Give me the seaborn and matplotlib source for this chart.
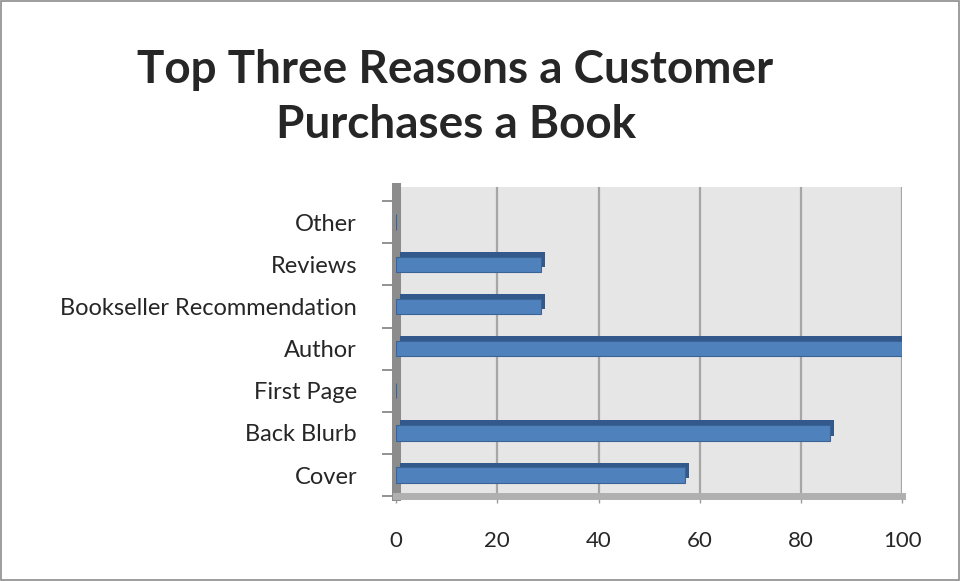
import numpy as np
import pandas as pd
import seaborn as sns
import matplotlib.pyplot as plt
import matplotlib.patheffects as pe
from matplotlib.patches import Rectangle

# categories listed top to bottom, as drawn
reasons = ["Other", "Reviews", "Bookseller Recommendation", "Author",
           "First Page", "Back Blurb", "Cover"]
percent = [0.0, 28.6, 28.6, 100.0, 0.0, 85.7, 57.1]
x_ticks = [0, 20, 40, 60, 80, 100]

df = pd.DataFrame({"reason": reasons, "percent": percent})

sns.set_theme(style="white")
plt.rcParams["font.family"] = ["Lato", "DejaVu Sans"]

fig = plt.figure(figsize=(9.61, 5.81), dpi=100)
ax = fig.add_axes([0.412, 0.146, 0.527, 0.532])
ax.set_facecolor("#e6e6e6")

sns.barplot(data=df, x="percent", y="reason", order=reasons, orient="h",
            color="#4f81bd", width=0.36, saturation=1, edgecolor="#3a6496",
            linewidth=0.8, ax=ax, zorder=3)

# fake the 3D extrusion of the Excel bars
for bar in ax.patches:
    bar.set_path_effects([
        pe.SimplePatchShadow(offset=(3, 3.5), shadow_rgbFace="#33598c", alpha=1),
        pe.Normal(),
    ])

ax.set_xlim(0, 100)
ax.set_ylim(len(reasons) - 0.5, -0.83)
ax.set_xticks(x_ticks)
ax.set_xticklabels([str(t) for t in x_ticks], fontsize=16)
ax.tick_params(axis="y", labelsize=17, length=0, pad=28)
ax.tick_params(axis="x", pad=20, length=5, color="#9a9a9a", width=1, bottom=True)
ax.set_yticks(np.arange(-0.5, len(reasons), 1), minor=True)
ax.tick_params(axis="y", which="minor", length=10, color="#7f7f7f", width=1.2, left=True)
ax.set_xlabel("")
ax.set_ylabel("")

ax.xaxis.grid(True, color="#a6a6a6", linewidth=1.6, zorder=0)
ax.set_axisbelow(True)
for side in ["top", "right"]:
    ax.spines[side].set_visible(False)
ax.spines["left"].set_color("#8c8c8c")
ax.spines["left"].set_linewidth(6.5)
ax.spines["bottom"].set_color("#b0b0b0")
ax.spines["bottom"].set_linewidth(5)

fig.text(0.474, 0.832, "Top Three Reasons a Customer\nPurchases a Book",
         ha="center", va="center", fontsize=33, fontweight="bold",
         linespacing=1.38)

fig.patches.append(Rectangle((0.001, 0.001), 0.997, 0.997, transform=fig.transFigure,
                             fill=False, edgecolor="#8c8c8c", linewidth=1.2))

fig.savefig("out.png", dpi=100)
